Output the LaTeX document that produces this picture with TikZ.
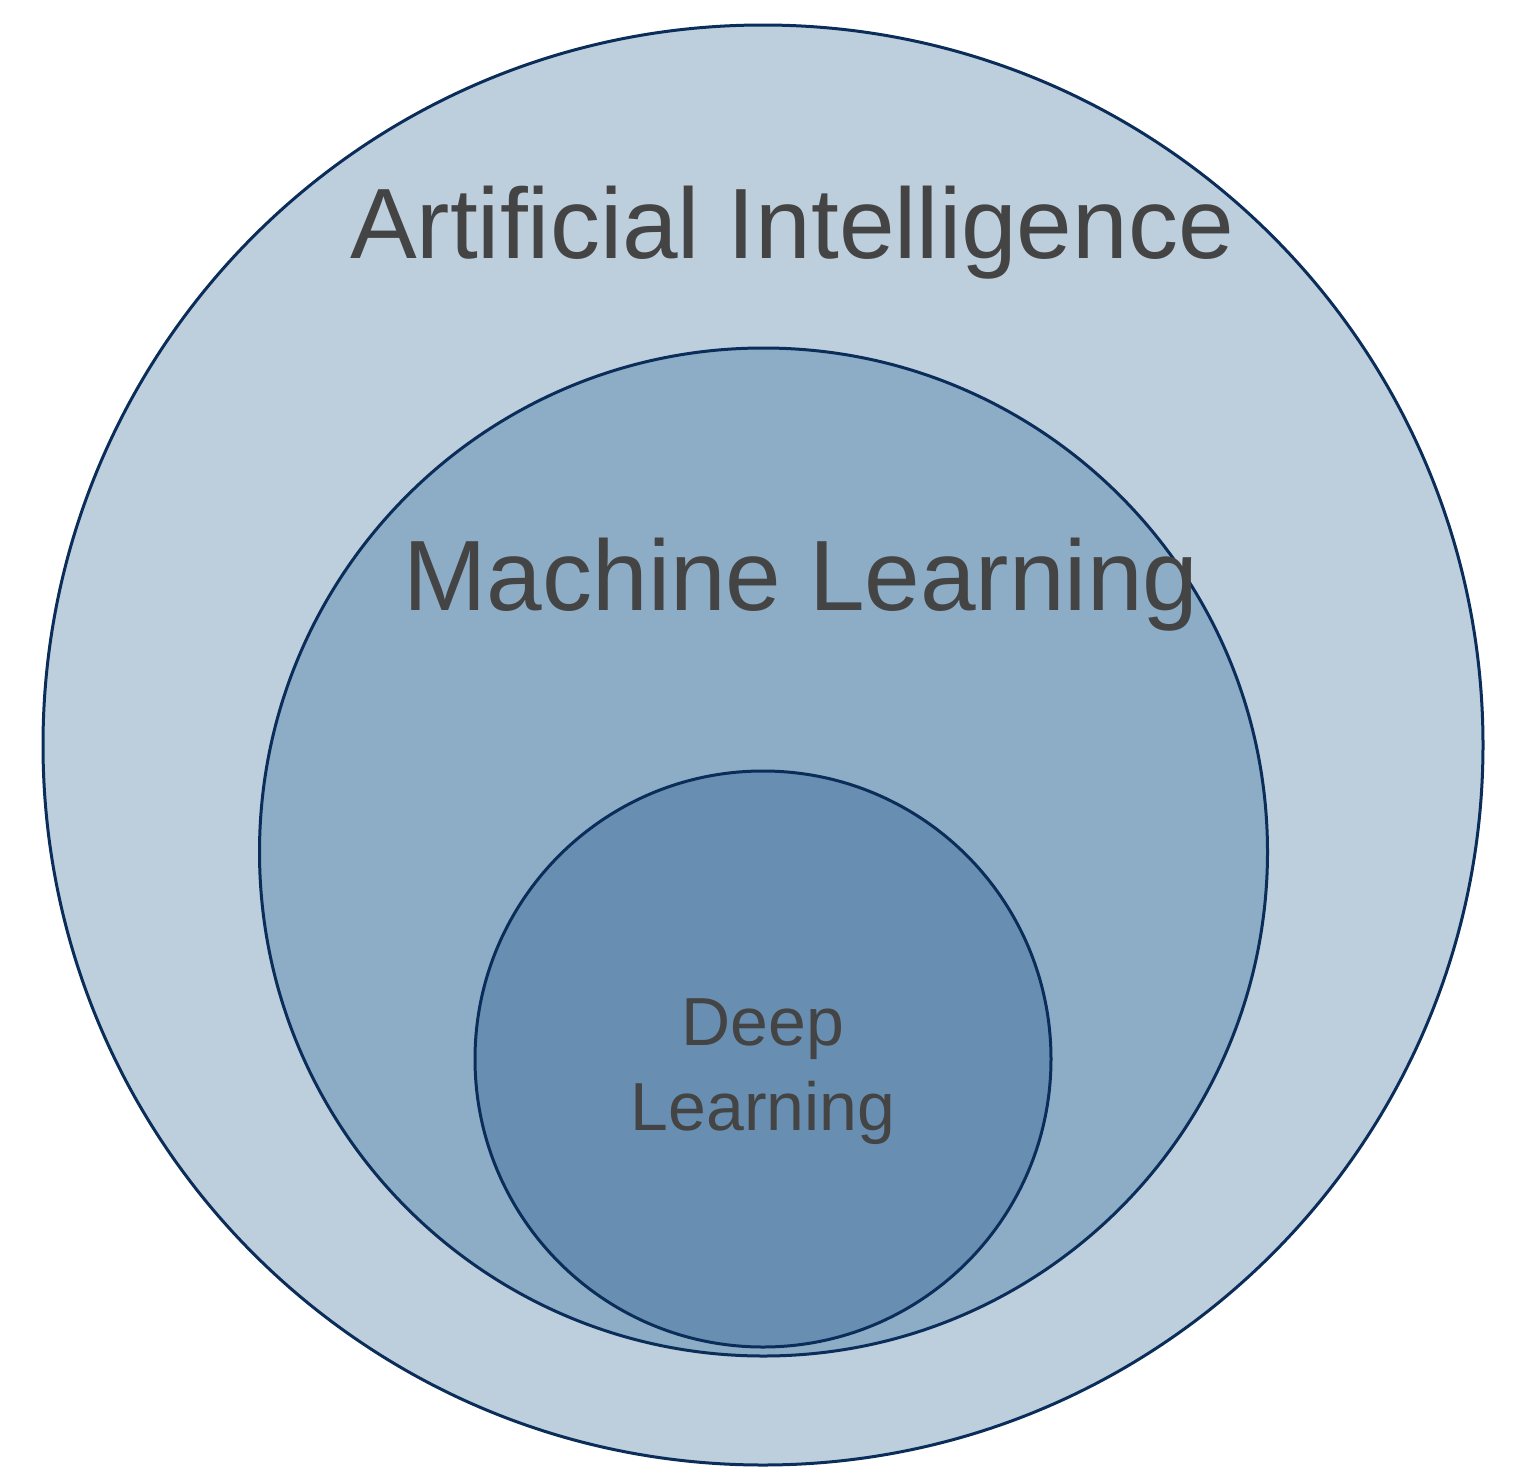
\documentclass[tikz,border=0pt]{standalone}
\usepackage{fontspec}
\setmainfont{Liberation Sans}
\definecolor{edge}{HTML}{0B2D5A}
\definecolor{aifill}{HTML}{BDCEDC}
\definecolor{mlfill}{HTML}{8DACC6}
\definecolor{dlfill}{HTML}{688FB1}
\definecolor{txt}{HTML}{444444}
\begin{document}
\begin{tikzpicture}[x=1pt,y=-1pt,
  ring/.style={draw=edge,line width=3pt},
  lbl/.style={text=txt,anchor=base,inner sep=0pt}]
\useasboundingbox (0,0) rectangle (1529,1483);
\draw[ring,fill=aifill] (763,745) circle (720);
\draw[ring,fill=mlfill] (763.5,852) circle (504);
\draw[ring,fill=dlfill] (763,1059) circle (288);
\node[lbl,font=\fontsize{100}{110}\selectfont] (ai) at (792,258) {Artificial Intelligence};
\node[lbl,font=\fontsize{100}{110}\selectfont] (ml) at (801,610) {Machine Learning};
\node[lbl,font=\fontsize{68}{75}\selectfont] (dl1) at (763,1045) {Deep};
\node[lbl,font=\fontsize{68}{75}\selectfont] (dl2) at (763,1130) {Learning};
\end{tikzpicture}
\end{document}
